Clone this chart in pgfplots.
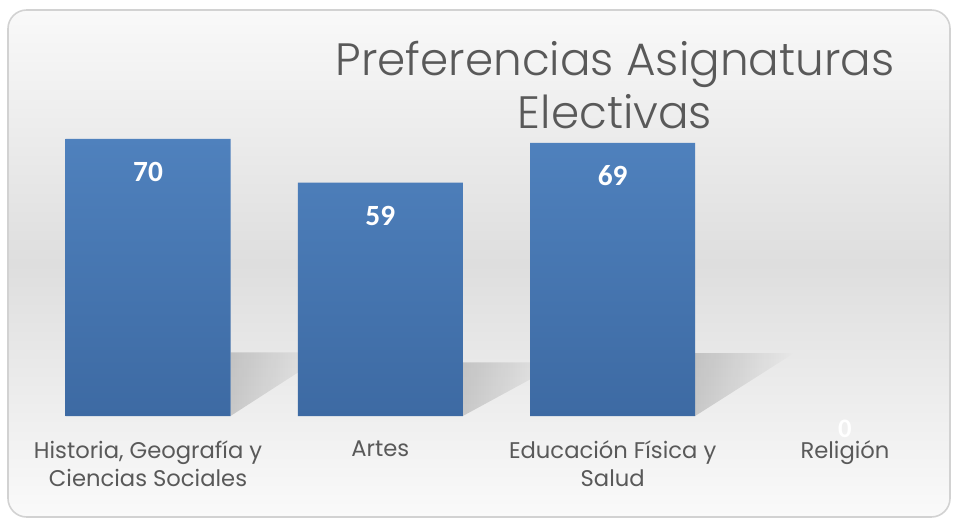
\documentclass[border=0pt]{standalone}
\usepackage{pgfplots}
\pgfplotsset{compat=1.18}
\usepackage{fontspec}
\setmainfont{Poppins}
\newfontfamily\titlefont{Poppins Light}
\newfontfamily\numfont{Carlito}
\usetikzlibrary{fadings}
\definecolor{txt}{HTML}{595959}
\definecolor{barTop}{HTML}{4F81BD}
\definecolor{barBot}{HTML}{3D6AA3}
\definecolor{bgTop}{HTML}{F9F9F9}
\definecolor{bgMid}{HTML}{DEDEDE}
\definecolor{bgBot}{HTML}{FAFAFA}
\begin{document}
\begin{tikzpicture}
\path (0,0) rectangle (717pt,390.75pt);
\shade[rounded corners=14pt, top color=bgTop, bottom color=bgBot, middle color=bgMid, draw=gray!35, line width=1.2pt]
  (6pt,3pt) rectangle (712.5pt,383.25pt);
\node[text=txt, align=center, font=\titlefont\fontsize{34}{40}\selectfont] at (461.25pt,327pt)
  {Preferencias Asignaturas\\Electivas};
\begin{axis}[
  at={(32.625pt,78.75pt)}, anchor=south west,
  scale only axis, width=679.5pt, height=207.75pt,
  xmin=-0.45, xmax=3.45, ymin=0, ymax=70,
  axis line style={draw=none},
  ytick=\empty,
  xtick={0,1,2,3},
  xticklabels={{Historia, Geografía y\\Ciencias Sociales},{Artes},{Educación Física y\\Salud},{Religión}},
  major tick length=0pt,
  xticklabel style={align=center, text=txt, font=\fontsize{17}{21}\selectfont, yshift=-15pt},
  /pgf/number format/assume math mode=true,
  clip=false,
]
% shadows
\foreach \c/\h in {0/70,1/59,2/69}{
  \edef\tmp{\noexpand\fill[black, opacity=0.16, path fading=east]
    (axis cs:\c+0.355,0) -- (axis cs:\c+0.355,0.23*\h) -- (axis cs:\c+0.78,0.23*\h) -- cycle;}
  \tmp
}
\addplot[ybar, bar width=0.71, bar shift=0pt, draw=none, top color=barTop, bottom color=barBot,
  nodes near coords, every node near coord/.append style={text=white, font=\numfont\bfseries\fontsize{22}{24}\selectfont, anchor=center, yshift=-24.75pt}]
  coordinates {(0,70) (1,59) (2,69)};
\addplot[ybar, bar width=0.71, bar shift=0pt, draw=none, fill=none,
  nodes near coords, every node near coord/.append style={text=white, inner sep=0pt, font=\numfont\bfseries\fontsize{20}{22}\selectfont, anchor=center, yshift=-9.5pt}]
  coordinates {(3,0)};
\end{axis}
\end{tikzpicture}
\end{document}
